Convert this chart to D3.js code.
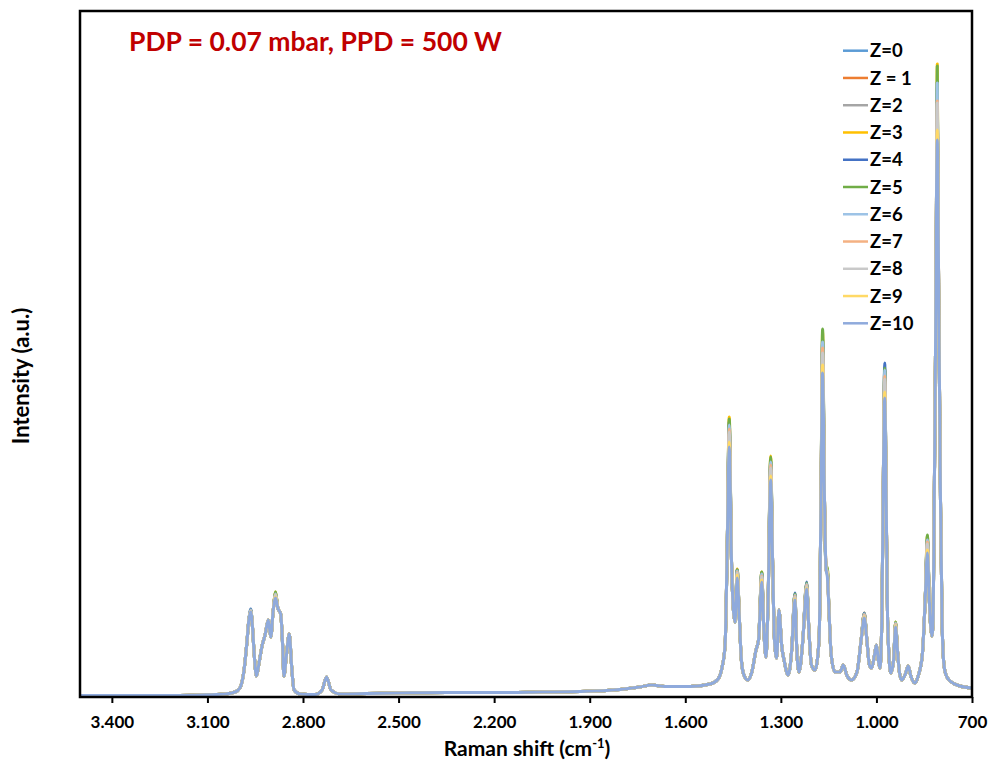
<!DOCTYPE html>
<html>
<head>
<meta charset="utf-8">
<script src="https://cdn.jsdelivr.net/npm/d3@7"></script>
<style>
  body { margin: 0; background: #fff; }
  svg { font-family: Lato, "Open Sans", sans-serif; }
</style>
</head>
<body>
<svg id="chart" width="990" height="762"></svg>
<script>
// Raman shift (cm-1) and shared intensity profile (a.u.)
const shift = [3500, 3400, 3280, 3200, 3123, 3045, 3013, 2998, 2985, 2976, 2970,
  2959, 2953, 2946, 2938, 2928, 2919, 2909, 2901, 2894,
  2879, 2870, 2864, 2860, 2852, 2843, 2836, 2828, 2809, 2762, 2740, 2726, 2712, 2684,
  2600, 2496, 2350, 2182, 2050, 1930, 1805, 1742, 1705, 1664, 1585, 1522, 1497, 1485, 1475, 1469,
  1455, 1449, 1444,
  1430, 1424, 1416, 1404, 1391, 1378, 1370,
  1354, 1347, 1340,
  1326, 1320, 1313, 1306, 1297, 1290, 1277, 1266,
  1250, 1243, 1231,
  1212, 1204, 1193, 1180, 1174,
  1163, 1158,
  1149, 1142, 1130, 1114, 1104, 1092, 1078, 1061, 1048,
  1030, 1022, 1015, 1006, 1000, 994, 989, 983, 978,
  970, 965, 955, 946,
  934, 928, 921, 909, 900, 892, 879, 869, 856, 847,
  834, 826, 822, 818.5, 814, 811.5,
  806.8, 803.6, 798.9, 794, 788, 781.5, 769, 737.7, 700];

const profile = [1.5, 1.5, 1.5, 1.5, 2, 3, 5, 9, 27, 55, 77,
  72, 42, 21, 34, 52, 62, 77, 60, 85,
  89, 83, 52, 21, 42, 63, 32, 7, 3, 2.5, 7, 20, 7, 3,
  3.5, 4, 4.5, 4.5, 5, 5.5, 7.5, 10, 12, 10.5, 10.5, 13, 18, 29, 52, 137,
  137, 87, 75,
  77, 37, 22, 17, 25, 47, 57,
  72, 40, 97,
  137, 57, 39, 87, 50, 37, 22, 47,
  47, 25, 57,
  67, 32, 27, 57, 197,
  197, 127,
  87, 42, 25, 25, 32, 21, 17, 25, 57,
  57, 32, 29, 42, 52, 37, 29, 77, 227,
  217, 77, 24, 37,
  47, 25, 17, 23, 31, 21, 14, 21, 42, 97,
  97, 61, 77, 197, 367, 497,
  497, 367, 197, 77, 32, 22, 16, 11, 9];

// peak positions and the top of each peak for every series
const peakShift = [2964, 2886, 1462, 1437, 1360, 1332, 1256, 1219, 1169, 1154, 1038, 974, 940, 840, 809];

const seriesNames = ["Z=0", "Z = 1", "Z=2", "Z=3", "Z=4", "Z=5", "Z=6", "Z=7", "Z=8", "Z=9", "Z=10"];
const seriesColors = ["#5B9BD5", "#ED7D31", "#A5A5A5", "#FFC000", "#4472C4", "#70AD47",
  "#9DC3E6", "#F4B183", "#C9C9C9", "#FFD966", "#8FAADC"];

const peakTops = [
  [87, 103, 272, 127, 123, 234, 102, 113, 355, 127, 83, 330, 74, 157, 610],
  [86, 102, 267, 125, 121, 231, 101, 112, 347, 125, 82, 322, 73, 154, 598],
  [86, 102, 265, 124, 120, 229, 100, 111, 343, 124, 81, 318, 72, 153, 592],
  [87, 105, 280, 128, 125, 241, 103, 114, 365, 129, 84, 328, 75, 161, 633],
  [88, 103, 275, 127, 124, 237, 104, 115, 358, 127, 84, 334, 74, 158, 615],
  [87, 105, 278, 127, 125, 240, 103, 114, 368, 130, 83, 329, 75, 162, 631],
  [87, 103, 272, 126, 123, 235, 102, 113, 355, 127, 83, 327, 74, 157, 614],
  [86, 102, 268, 125, 121, 232, 101, 112, 349, 125, 82, 321, 73, 155, 596],
  [86, 102, 265, 124, 120, 229, 100, 111, 344, 124, 81, 318, 72, 153, 594],
  [85, 100, 255, 122, 117, 221, 98, 109, 332, 122, 80, 305, 71, 147, 567],
  [85, 99, 250, 119, 115, 217, 97, 108, 324, 120, 79, 299, 70, 144, 557]
];

const xTicks = [3400, 3100, 2800, 2500, 2200, 1900, 1600, 1300, 1000, 700];

// assemble each series from the shared profile and its own peak tops
const series = seriesNames.map((name, i) => {
  const pts = shift.map((s, j) => ({ x: s, y: profile[j] }))
    .concat(peakShift.map((s, j) => ({ x: s, y: peakTops[i][j] })));
  pts.sort((a, b) => b.x - a.x);
  return { name, color: seriesColors[i], values: pts };
});

const plot = { left: 80, right: 972, top: 11, bottom: 697 };

const svg = d3.select("#chart");

const x = d3.scaleLinear().domain([3500, 700]).range([plot.left, plot.right]);
const y = d3.scaleLinear().domain([0, 686]).range([plot.bottom, plot.top]);

svg.append("defs").append("clipPath").attr("id", "clip")
  .append("rect")
  .attr("x", plot.left).attr("y", plot.top)
  .attr("width", plot.right - plot.left).attr("height", plot.bottom - plot.top);

const line = d3.line()
  .x(d => x(d.x))
  .y(d => y(d.y))
  .curve(d3.curveMonotoneX);

svg.append("g").attr("clip-path", "url(#clip)")
  .selectAll("path")
  .data(series)
  .enter()
  .append("path")
  .attr("fill", "none")
  .attr("stroke", d => d.color)
  .attr("stroke-width", 3)
  .attr("stroke-linejoin", "round")
  .attr("d", d => line(d.values));

// frame
svg.append("rect")
  .attr("x", plot.left).attr("y", plot.top)
  .attr("width", plot.right - plot.left).attr("height", plot.bottom - plot.top)
  .attr("fill", "none")
  .attr("stroke", "#000")
  .attr("stroke-width", 2.5);

// x axis with dot thousands separator
const locale = d3.formatLocale({ decimal: ",", thousands: ".", grouping: [3], currency: ["", ""] });
const fmt = locale.format(",d");

const xAxis = svg.append("g")
  .attr("transform", `translate(0,${plot.bottom})`)
  .call(d3.axisBottom(x).tickValues(xTicks).tickFormat(fmt).tickSize(6).tickSizeOuter(0));
xAxis.select(".domain").remove();
xAxis.selectAll(".tick line").attr("stroke", "#000").attr("stroke-width", 2);
xAxis.selectAll(".tick text")
  .attr("y", 19)
  .attr("dy", "0.71em")
  .style("font-size", "17px")
  .style("font-weight", "bold")
  .style("font-family", "Lato, sans-serif")
  .attr("fill", "#000");

// axis titles
const xLabel = svg.append("text")
  .attr("x", 527).attr("y", 756)
  .attr("text-anchor", "middle")
  .style("font-size", "21px")
  .style("font-weight", "bold");
xLabel.append("tspan").text("Raman shift (cm");
xLabel.append("tspan").attr("dy", -8).style("font-size", "13px").text("-1");
xLabel.append("tspan").attr("dy", 8).text(")");

svg.append("text")
  .attr("transform", "translate(29,376) rotate(-90)")
  .attr("text-anchor", "middle")
  .style("font-size", "22px")
  .style("font-weight", "bold")
  .text("Intensity (a.u.)");

// title
svg.append("text")
  .attr("x", 129).attr("y", 51)
  .style("font-size", "26.5px")
  .style("font-weight", "bold")
  .attr("fill", "#C00000")
  .text("PDP = 0.07 mbar, PPD = 500 W");

// legend
const legend = svg.append("g")
  .selectAll("g")
  .data(series)
  .enter()
  .append("g")
  .attr("transform", (d, i) => `translate(843,${50.7 + i * 27.26})`);

legend.append("line")
  .attr("x1", 0).attr("x2", 25)
  .attr("stroke", d => d.color)
  .attr("stroke-width", 2.5);

legend.append("text")
  .attr("x", 27)
  .attr("dy", "0.36em")
  .style("font-size", "18.5px")
  .style("font-weight", "bold")
  .text(d => d.name);
</script>
</body>
</html>
